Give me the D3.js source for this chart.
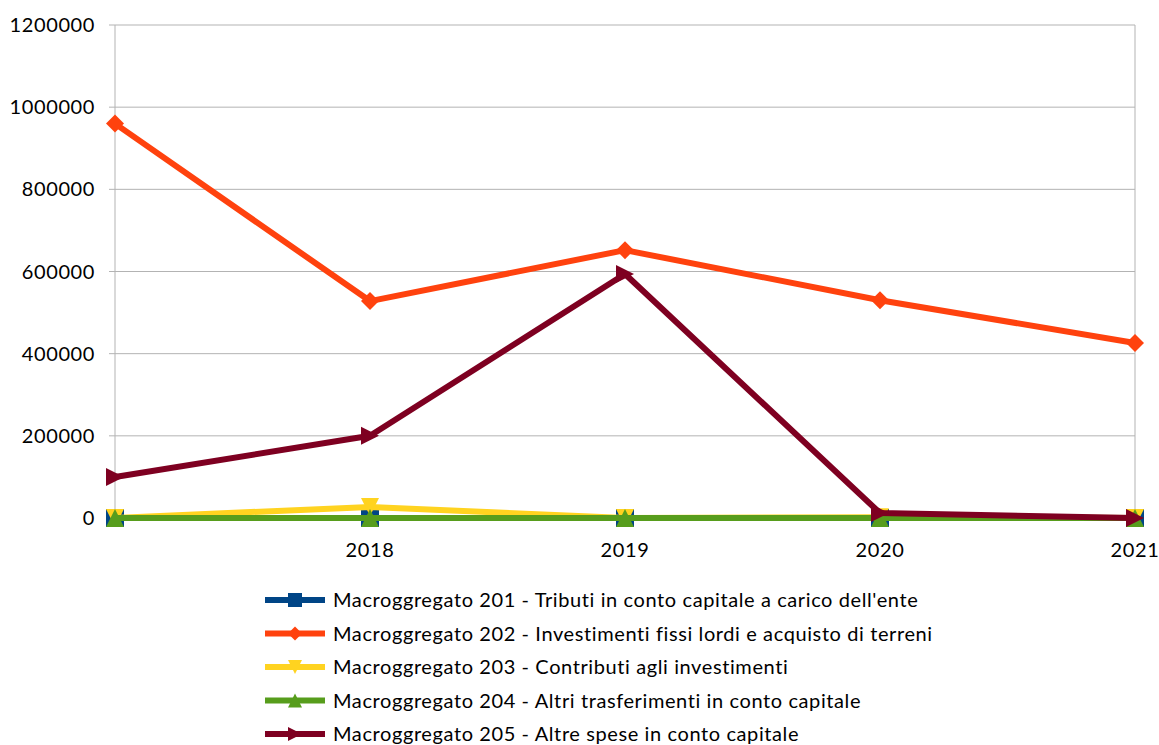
<!DOCTYPE html>
<html>
<head>
<meta charset="utf-8">
<script src="https://cdn.jsdelivr.net/npm/d3@7"></script>
<style>
  body { margin: 0; background: #fff; }
  text { font-family: Lato, "Open Sans", sans-serif; fill: #000; }
</style>
</head>
<body>
<div id="chart"></div>
<script>
// categorie (la prima non ha etichetta visibile)
const anni = ["2017", "2018", "2019", "2020", "2021"];
const etichetteX = ["", "2018", "2019", "2020", "2021"];
const tickY = [0, 200000, 400000, 600000, 800000, 1000000, 1200000];

const nomi = [
    "Macroggregato 201 - Tributi in conto capitale a carico dell'ente",
    "Macroggregato 202 - Investimenti fissi lordi e acquisto di terreni",
    "Macroggregato 203 - Contributi agli investimenti",
    "Macroggregato 204 - Altri trasferimenti in conto capitale",
    "Macroggregato 205 - Altre spese in conto capitale"
];
const valori201 = [0, 0, 0, 0, 0];
const valori202 = [960000, 528000, 652000, 530000, 426000];
const valori203 = [0, 27000, 0, 2000, 0];
const valori204 = [0, 0, 0, 0, 0];
const valori205 = [100000, 200000, 594000, 12000, 0];

const colori = ["#004586", "#ff420e", "#ffd320", "#579d1c", "#7e0021"];
const simboli = ["square", "diamond", "down", "up", "right"];

const serie = [valori201, valori202, valori203, valori204, valori205].map((v, i) => ({
    nome: nomi[i], valori: v, colore: colori[i], simbolo: simboli[i]
}));

const dim = { sirina: 1159, visina: 745, left: 115, right: 1135, top: 25, bottom: 518 };

const svg = d3.select("#chart").append("svg")
    .attr("width", dim.sirina)
    .attr("height", dim.visina);

const x = d3.scalePoint().domain(anni).range([dim.left, dim.right]);
const y = d3.scaleLinear().domain([0, 1200000]).range([dim.bottom, dim.top]);

// griglia orizzontale
svg.append("g").selectAll("line").data(tickY).join("line")
    .attr("x1", dim.left).attr("x2", dim.right)
    .attr("y1", d => y(d)).attr("y2", d => y(d))
    .attr("stroke", "#b3b3b3").attr("stroke-width", 1);

// bordi verticali dell'area
svg.append("g").selectAll("line").data([anni[0], anni[anni.length - 1]]).join("line")
    .attr("x1", d => x(d)).attr("x2", d => x(d))
    .attr("y1", dim.top).attr("y2", dim.bottom)
    .attr("stroke", "#b3b3b3").attr("stroke-width", 1);

// tacche asse x
svg.append("g").selectAll("line").data(anni).join("line")
    .attr("x1", d => x(d)).attr("x2", d => x(d))
    .attr("y1", dim.bottom).attr("y2", dim.bottom + 6)
    .attr("stroke", "#b3b3b3");

// tacche asse y
svg.append("g").selectAll("line").data(tickY).join("line")
    .attr("x1", dim.left - 6).attr("x2", dim.left)
    .attr("y1", d => y(d)).attr("y2", d => y(d))
    .attr("stroke", "#b3b3b3");

svg.append("g").selectAll("text").data(tickY).join("text")
    .attr("x", 95).attr("y", d => y(d) + 7)
    .attr("text-anchor", "end")
    .style("font-size", "20px")
    .style("letter-spacing", "0.6px")
    .text(d => d);

svg.append("g").selectAll("text").data(anni).join("text")
    .attr("x", d => x(d)).attr("y", 557)
    .attr("text-anchor", "middle")
    .style("font-size", "20px")
    .style("letter-spacing", "0.6px")
    .text((d, i) => etichetteX[i]);

function forma(tipo, s) {
    const h = s / 2;
    if (tipo === "square") return `M${-h},${-h}H${h}V${h}H${-h}Z`;
    if (tipo === "diamond") return `M0,${-h}L${h},0L0,${h}L${-h},0Z`;
    if (tipo === "down") return `M${-h},${-h}H${h}L0,${h}Z`;
    if (tipo === "up") return `M${-h},${h}H${h}L0,${-h}Z`;
    return `M${-h},${-h}L${h},0L${-h},${h}Z`;
}

const linea = d3.line().x((d, i) => x(anni[i])).y(d => y(d));

serie.forEach(s => {
    const g = svg.append("g");
    g.append("path")
        .attr("d", linea(s.valori))
        .attr("fill", "none")
        .attr("stroke", s.colore)
        .attr("stroke-width", 6)
        .attr("stroke-linejoin", "round");
    g.selectAll("path.m").data(s.valori).join("path")
        .attr("class", "m")
        .attr("transform", (d, i) => `translate(${x(anni[i])},${y(d)})`)
        .attr("d", forma(s.simbolo, 18))
        .attr("fill", s.colore);
});

// legenda
const leg = svg.append("g").selectAll("g").data(serie).join("g")
    .attr("transform", (d, i) => `translate(265,${600 + i * 33.5})`);
leg.append("line")
    .attr("x1", 0).attr("x2", 60).attr("y1", 0).attr("y2", 0)
    .attr("stroke", d => d.colore).attr("stroke-width", 6);
leg.append("path")
    .attr("transform", "translate(30,0)")
    .attr("d", d => forma(d.simbolo, 14))
    .attr("fill", d => d.colore);
leg.append("text")
    .attr("x", 68).attr("y", 7)
    .style("font-size", "20px")
    .style("letter-spacing", "0.6px")
    .text(d => d.nome);
</script>
</body>
</html>
